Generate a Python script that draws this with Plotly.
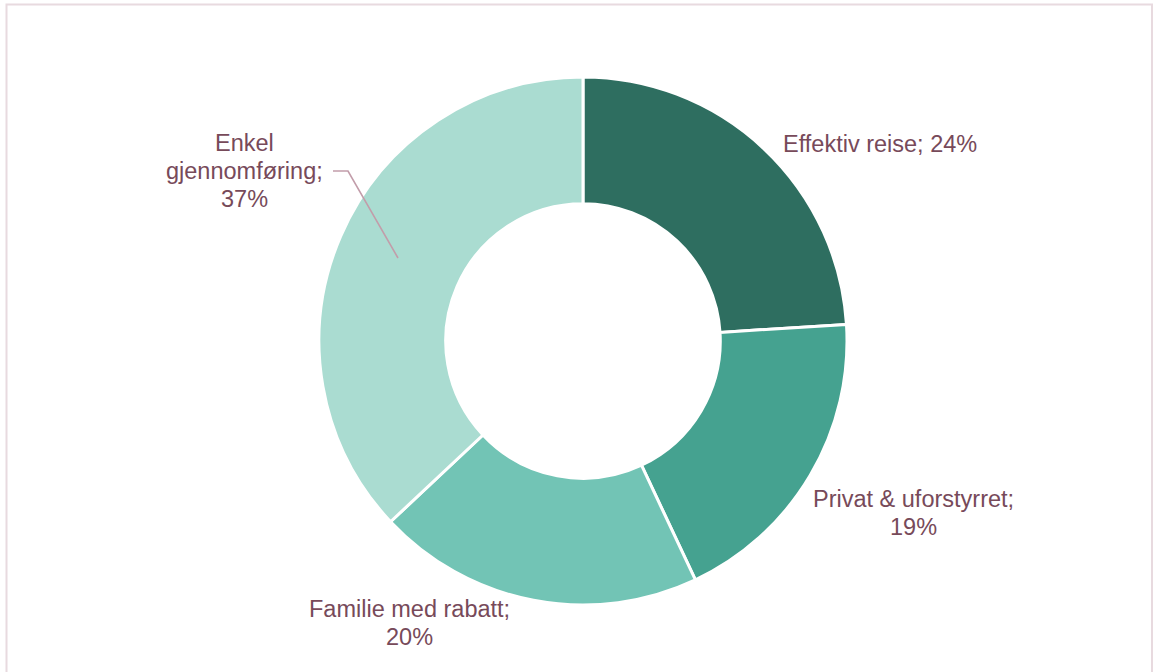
import plotly.graph_objects as go

# Slice data, in drawing order (clockwise from 12 o'clock)
categories = ["Effektiv reise", "Privat & uforstyrret", "Familie med rabatt", "Enkel gjennomføring"]
shares = [24, 19, 20, 37]
colors = ["#2E6E60", "#45A290", "#72C4B5", "#AADCD1"]

# Label text layout per slice (line breaks) and label block centres in px
label_lines = [
    ["{c}; {v}%"],
    ["{c};", "{v}%"],
    ["{c};", "{v}%"],
    ["Enkel", "gjennomføring;", "{v}%"],
]
label_pos = [(880, 144), (913, 513), (409, 623), (244, 171)]
LINE_GAP = 27.5

W, H = 1153, 672
TEXT_COLOR = "#774A5A"
FONT = dict(family="Liberation Sans, Arial, sans-serif", size=23.5, color=TEXT_COLOR)


def px(x, y):
    """Convert pixel coordinates (top-left origin) to paper coordinates."""
    return x / W, 1 - y / H


cx, cy, r = 583, 341, 264
x0, y0 = px(cx - r, cy + r)
x1, y1 = px(cx + r, cy - r)

fig = go.Figure(
    go.Pie(
        labels=categories,
        values=shares,
        hole=0.52,
        sort=False,
        direction="clockwise",
        rotation=0,
        marker=dict(colors=colors, line=dict(color="white", width=3)),
        textinfo="none",
        hoverinfo="label+percent",
        showlegend=False,
        domain=dict(x=[x0, x1], y=[y0, y1]),
    )
)

annotations = []
for cat, val, lines, (lx, ly) in zip(categories, shares, label_lines, label_pos):
    n = len(lines)
    for i, line in enumerate(lines):
        ax, ay = px(lx, ly + (i - (n - 1) / 2) * LINE_GAP)
        annotations.append(
            dict(
                x=ax, y=ay, xref="paper", yref="paper",
                text=line.format(c=cat, v=val), showarrow=False,
                xanchor="center", yanchor="middle", font=FONT,
            )
        )

# Leader line from the largest slice to its label
lx0, ly0 = px(398, 258)
lxm, lym = px(348, 171)
lx1, ly1 = px(333, 171)
shapes = [
    dict(
        type="path", xref="paper", yref="paper",
        path=f"M {lx0},{ly0} L {lxm},{lym} L {lx1},{ly1}",
        line=dict(color="#C29DAA", width=1.6),
    ),
    # chart frame
    dict(
        type="rect", xref="paper", yref="paper",
        x0=6.5 / W, x1=1152 / W, y0=-0.1, y1=1 - 4.5 / H,
        line=dict(color="#E8DADF", width=2),
        fillcolor="rgba(0,0,0,0)",
    ),
]

fig.update_layout(
    width=W, height=H,
    margin=dict(l=0, r=0, t=0, b=0),
    paper_bgcolor="white",
    plot_bgcolor="white",
    annotations=annotations,
    shapes=shapes,
)

fig.write_html("out.html")
